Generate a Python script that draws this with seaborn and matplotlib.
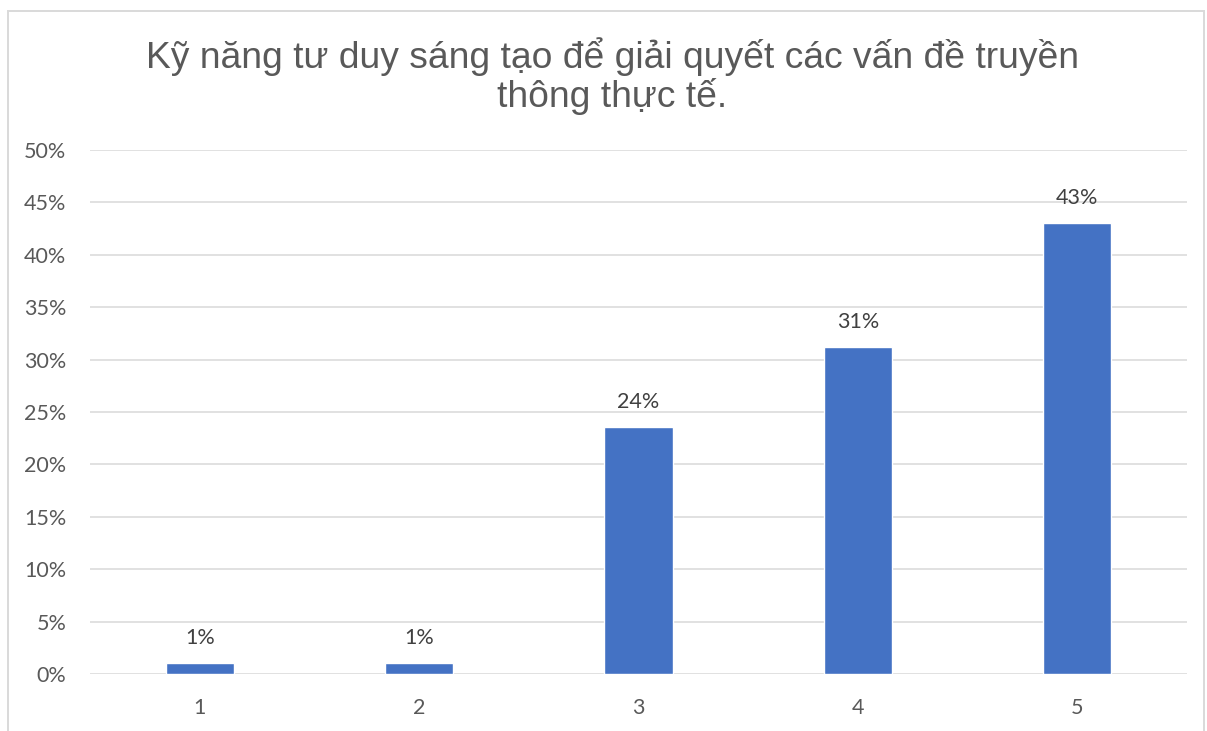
import pandas as pd
import seaborn as sns
import matplotlib.pyplot as plt
from matplotlib.patches import Rectangle
from matplotlib.ticker import PercentFormatter

# Datos
muc_do = ['1', '2', '3', '4', '5']
ty_le = [0.0105, 0.0105, 0.2357, 0.312, 0.430]
nhan = ['1%', '1%', '24%', '31%', '43%']
tieu_de = 'Kỹ năng tư duy sáng tạo để giải quyết các vấn đề truyền\nthông thực tế.'

datos = pd.DataFrame({'muc_do': muc_do, 'ty_le': ty_le})

sns.set_style('white')
plt.rcParams['font.family'] = ['Lato', 'DejaVu Sans']

fig = plt.figure(figsize=(12.07, 7.31), dpi=100)
ax = fig.add_axes([90 / 1207, 1 - 674 / 731, (1187 - 90) / 1207, (674 - 150) / 731])

sns.barplot(x='muc_do', y='ty_le', data=datos, color='#4472C4', width=0.31,
            saturation=1, ax=ax, zorder=3)

ax.set_xlim(-0.5, 4.5)
ax.set_ylim(0, 0.5)
ax.set_yticks([i * 0.05 for i in range(11)])
ax.yaxis.set_major_formatter(PercentFormatter(1.0, decimals=0))
ax.grid(axis='y', color='#D9D9D9', linewidth=1.1, zorder=0)
ax.grid(axis='x', visible=False)
for s in ax.spines.values():
    s.set_visible(False)
ax.tick_params(axis='both', length=0, labelsize=15.5, labelcolor='#595959')
ax.tick_params(axis='x', pad=17)
ax.tick_params(axis='y', pad=17)
ax.set_xlabel('')
ax.set_ylabel('')

# Etiquetas encima de las barras
for i, (v, t) in enumerate(zip(ty_le, nhan)):
    ax.annotate(t, (i, v), xytext=(0, 11), textcoords='offset points',
                ha='center', va='bottom', fontsize=15.5, color='#404040')

# Titulo
fig.text(612 / 1207, 1 - 76 / 731, tieu_de, ha='center', va='center',
         fontsize=26.8, color='#595959', family=['Liberation Sans', 'DejaVu Sans'],
         linespacing=1.08)

# Marco del grafico
fig.add_artist(Rectangle((7.5 / 1207, -0.05), (1203.5 - 7.5) / 1207, 1.05 - 10.5 / 731,
                         transform=fig.transFigure, fill=False,
                         edgecolor='#D9D9D9', linewidth=1.4))

plt.savefig('out.png', dpi=100)
